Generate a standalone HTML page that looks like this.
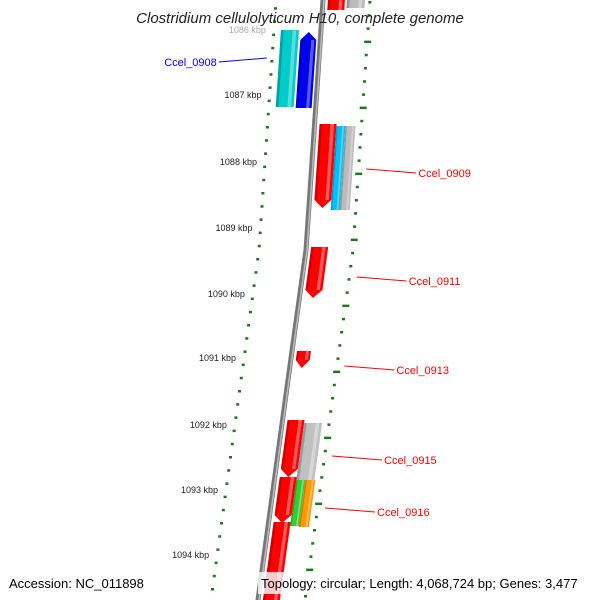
<!DOCTYPE html>
<html><head><meta charset="utf-8"><style>
body{margin:0;background:#fff}
svg{display:block;font-family:"Liberation Sans",sans-serif}
</style></head><body>
<svg id="map" width="600" height="600" viewBox="0 0 600 600">
<defs>
<linearGradient id="gb" x1="0" x2="1"><stop offset="0" stop-color="#555"/><stop offset="0.5" stop-color="#aaa"/><stop offset="1" stop-color="#666"/></linearGradient>
</defs>
<g id="ticks"></g>
<g id="backbone"></g>
<g id="genes"></g>
<g id="labels"></g>
<text x="300" y="23" text-anchor="middle" font-size="15" font-style="italic" fill="#222">Clostridium cellulolyticum H10, complete genome</text>
<rect x="6" y="572" width="150" height="22" fill="#fff" opacity="0.8"/>
<text x="9" y="588" font-size="13" fill="#000">Accession: NC_011898</text>
<rect x="258" y="572" width="336" height="22" fill="#fff" opacity="0.8"/>
<text x="261" y="588" font-size="13" fill="#000">Topology: circular; Length: 4,068,724 bp; Genes: 3,477</text>
</svg>
<script>
// data
const kbpLabels = [1086,1087,1088,1089,1090,1091,1092,1093,1094];
const kbpY = [30,95,162,228,294,358,425,490,555];
const geneNames = ['Ccel_0908_a','Ccel_0908','top_red','top_gray','Ccel_0909','ccel_0909_b','ccel_0909_c','Ccel_0911','Ccel_0913','Ccel_0915','ccel_0915_b','ccel_0916_a','Ccel_0916','ccel_0917','ccel_0918'];
const geneStart = [30,32,-10,-10,124,126,126,247,351,420,423,480,480,477,522];
const geneEnd = [107,108,10,8,208,210,210,298,368,477,480,526,527,523,610];
const geneLane = [-40,-20,5,24,5,22,31,5,5,5,22,22,31,5,5];
const geneWidth = [18,16,17,18,17,9,10,17,14,17,18,9,10,17,17];
const geneColor = ['#00cccc','#0000ee','#ff0000','#bbbbbb','#ff0000','#00bfff','#bbbbbb','#ff0000','#ff0000','#ff0000','#c0c0c0','#33cc33','#ff9900','#ff0000','#ff0000'];
const geneDir = [0,-1,0,0,1,0,0,1,1,1,0,0,0,1,0];
const labelText = ['Ccel_0908','Ccel_0909','Ccel_0911','Ccel_0913','Ccel_0915','Ccel_0916'];
const labelColor = ['#0000ff','#ff0000','#ff0000','#ff0000','#ff0000','#ff0000'];
const labelY = [62,173,281,370,460,512];
const labelSide = [-1,1,1,1,1,1];

const NS='http://www.w3.org/2000/svg';
const bbY=[-20,0,250,380,600,620], bbX=[324,323,306,288,258,255];
function bx(y){for(let i=0;i<bbY.length-1;i++){if(y<=bbY[i+1]){const t=(y-bbY[i])/(bbY[i+1]-bbY[i]);return bbX[i]+t*(bbX[i+1]-bbX[i]);}}return bbX[bbX.length-1];}
function mk(tag,attrs,parent){const e=document.createElementNS(NS,tag);for(const k in attrs)e.setAttribute(k,attrs[k]);parent.appendChild(e);return e;}

// backbone
const bb=document.getElementById('backbone');
let pts=[];for(let y=-5;y<=605;y+=5)pts.push(bx(y)+','+y);
const bl=mk('polyline',{points:pts.join(' '),fill:'none',stroke:'#777','stroke-width':5},bb);


const bl2=mk('polyline',{points:pts.map(p=>{const [x,y]=p.split(',');return (+x+1)+','+y}).join(' '),fill:'none',stroke:'#bbb','stroke-width':1.5},bb);

// ticks
const tg=document.getElementById('ticks');
for(let y=-5;y<=605;y+=13.2){
  const major=kbpY.some(k=>Math.abs(k-y)<4);
  const xi=bx(y)-47, xo=bx(y)+47;
  const d1=mk('rect',{x:xi-(major?3:1.5),y:y-1,width:major?7:3,height:2.5,fill:'#1a7a1a'},tg);
  
  
  const yo=y+7;
  const majO=Math.round((yo-37)/13.2)%5===0;
  const d2=mk('rect',{x:bx(yo)+47-(majO?3:1.5),y:yo-1,width:majO?7:3,height:2.5,fill:'#1a7a1a'},tg);
  
  
}
kbpLabels.forEach((k,i)=>{
  const y=kbpY[i];
  const t=mk('text',{x:bx(y)-55,y:y+3,'text-anchor':'end','font-size':9,fill:i===0?'#aaa':'#222'},tg);
  t.textContent=k+' kbp';
  
  
});

// genes
const gg=document.getElementById('genes');
geneNames.forEach((n,i)=>{
  const s=geneStart[i], e=geneEnd[i], o=geneLane[i], w=geneWidth[i], d=geneDir[i];
  const ah=8;
  const xs=y=>bx(y)+o;
  let p;
  if(d===1){
    p=[[xs(s),s],[xs(s)+w,s],[xs(e-ah)+w,e-ah],[xs(e)+w/2,e],[xs(e-ah),e-ah]];
  }else if(d===-1){
    p=[[xs(s+ah),s+ah],[xs(s)+w/2,s],[xs(s+ah)+w,s+ah],[xs(e)+w,e],[xs(e),e]];
  }else{
    p=[[xs(s),s],[xs(s)+w,s],[xs(e)+w,e],[xs(e),e]];
  }
  const poly=mk('polygon',{points:p.map(q=>q.join(',')).join(' '),fill:geneColor[i]},gg);
  
  
  // shading strip
  mk('polygon',{points:[[xs(s)+w*0.65,s+(d===-1?ah:0)],[xs(s)+w*0.85,s+(d===-1?ah:0)],[xs(e-(d===1?ah:0))+w*0.85,e-(d===1?ah:0)],[xs(e-(d===1?ah:0))+w*0.65,e-(d===1?ah:0)]].map(q=>q.join(',')).join(' '),fill:'#fff',opacity:0.35},gg);
  mk('polygon',{points:[[xs(s),s+(d===-1?ah:0)],[xs(s)+w*0.15,s+(d===-1?ah:0)],[xs(e-(d===1?ah:0))+w*0.15,e-(d===1?ah:0)],[xs(e-(d===1?ah:0)),e-(d===1?ah:0)]].map(q=>q.join(',')).join(' '),fill:'#000',opacity:0.2},gg);
});

// labels
const lg=document.getElementById('labels');
labelText.forEach((t,i)=>{
  const y=labelY[i];
  let x1,x2,tx,anchor;
  if(labelSide[i]<0){x1=bx(y)-52;x2=x1-48;tx=x2-2;anchor='end';}
  else{x1=bx(y)+55;x2=x1+50;tx=x2+2;anchor='start';}
  const ln=mk('line',{x1:x1,y1:y-4,x2:x2,y2:y,stroke:labelColor[i],'stroke-width':1},lg);
  
  
  const te=mk('text',{x:tx,y:y+4,'text-anchor':anchor,'font-size':11,fill:labelColor[i]},lg);
  te.textContent=t;
  
  
});
</script>
</body></html>
